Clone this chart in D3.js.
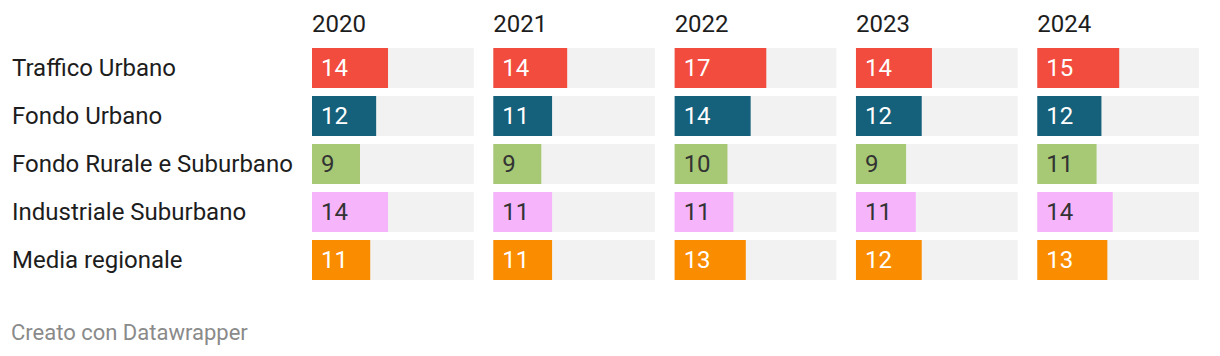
<!DOCTYPE html>
<html>
<head>
<meta charset="utf-8">
<script src="https://cdn.jsdelivr.net/npm/d3@7"></script>
<style>
  html, body { margin: 0; padding: 0; background: #fff; }
  svg { display: block; font-family: Roboto, "Noto Sans", sans-serif; }
</style>
</head>
<body>
<svg id="chart" width="1220" height="356"></svg>
<script>
const years = ["2020", "2021", "2022", "2023", "2024"];
const categories = ["Traffico Urbano", "Fondo Urbano", "Fondo Rurale e Suburbano", "Industriale Suburbano", "Media regionale"];
const values2020 = [14.1, 11.9, 8.9, 14.1, 10.8];
const values2021 = [13.7, 10.9, 8.9, 10.9, 10.9];
const values2022 = [17.0, 14.1, 9.8, 10.9, 13.2];
const values2023 = [14.1, 12.2, 9.3, 11.1, 12.2];
const values2024 = [15.2, 11.9, 11.0, 14.0, 13.0];
const seriesValues = [values2020, values2021, values2022, values2023, values2024];
const colors = ["#f14c3e", "#15607a", "#a7c874", "#f6b4fb", "#fa8c00"];
const labelColors = ["#ffffff", "#ffffff", "#333333", "#333333", "#ffffff"];
const xMax = 30;

const svg = d3.select("#chart");

const col = d3.scaleBand().domain(years).range([312, 1199]).paddingInner(0.108).paddingOuter(0);
const row = d3.scaleBand().domain(categories).range([48, 280]).paddingInner(8 / 48).paddingOuter(0);
const x = d3.scaleLinear().domain([0, xMax]).range([0, col.bandwidth()]);
const fmt = d3.format(".0f");

// row labels
svg.append("g").selectAll("text").data(categories).join("text")
  .attr("x", 12)
  .attr("y", d => row(d) + row.bandwidth() / 2)
  .attr("dy", "0.35em")
  .attr("font-size", 24)
  .attr("fill", "#1d1d1d")
  .text(d => d);

years.forEach((yr, i) => {
  const g = svg.append("g").attr("transform", `translate(${col(yr)},0)`);
  g.append("text")
    .attr("x", 0).attr("y", 32)
    .attr("font-size", 24)
    .attr("fill", "#1d1d1d")
    .text(yr);
  const data = categories.map((c, j) => ({ c, j, v: seriesValues[i][j] }));
  g.selectAll("rect.bg").data(data).join("rect").attr("class", "bg")
    .attr("x", 0).attr("y", d => row(d.c))
    .attr("width", col.bandwidth()).attr("height", row.bandwidth())
    .attr("fill", "#f2f2f2");
  g.selectAll("rect.bar").data(data).join("rect").attr("class", "bar")
    .attr("x", 0).attr("y", d => row(d.c))
    .attr("width", d => x(d.v)).attr("height", row.bandwidth())
    .attr("fill", d => colors[d.j]);
  g.selectAll("text.val").data(data).join("text").attr("class", "val")
    .attr("x", 9).attr("y", d => row(d.c) + row.bandwidth() / 2)
    .attr("dy", "0.35em")
    .attr("font-size", 24)
    .attr("fill", d => labelColors[d.j])
    .text(d => fmt(d.v));
});

svg.append("text")
  .attr("x", 11).attr("y", 340)
  .attr("font-size", 22)
  .attr("fill", "#8a8a8a")
  .text("Creato con Datawrapper");
</script>
</body>
</html>
